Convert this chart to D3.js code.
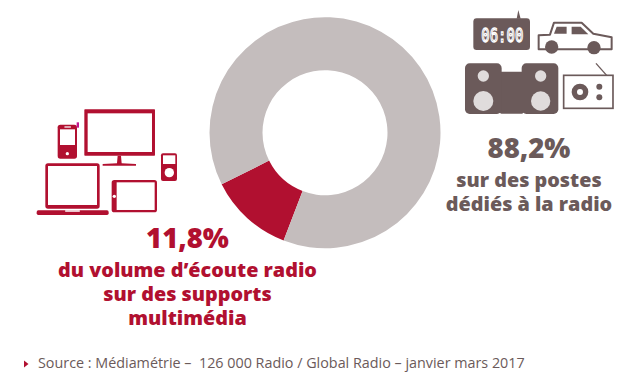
<!DOCTYPE html>
<html lang="fr">
  <head>
    <meta charset="utf-8" />
    <title>Volume d'écoute radio</title>
    <script src="https://cdnjs.cloudflare.com/ajax/libs/d3/7.8.5/d3.min.js"></script>
    <style type="text/css">
      html, body { margin: 0; padding: 0; background: #fff; }
      svg { display: block; }
      text { font-family: "Open Sans", sans-serif; }
    </style>
  </head>
  <body>
    <div id="chart"></div>
    <script>
      const categories = ["multimedia", "radio"];
      const shares = [11.8, 88.2];
      const redLines = ["du volume d’écoute radio", "sur des supports", "multimédia"];
      const greyLines = ["sur des postes", "dédiés à la radio"];
      const sourceLine = "Source : Médiamétrie –  126 000 Radio / Global Radio – janvier mars 2017";

      const width = 640;
      const height = 381;
      const red = "#b11030";
      const grey = "#c4bdbd";
      const dark = "#6b5a5a";
      const pale = "#e0dcdc";

      const svg = d3.select("#chart").append("svg").attr("width", width).attr("height", height);

      // donut
      const color = d3.scaleOrdinal().domain(categories).range([red, grey]);
      const startAngle = (201 * Math.PI) / 180;
      const pie = d3.pie().sort(null).startAngle(startAngle).endAngle(startAngle + 2 * Math.PI);
      const arc = d3.arc().innerRadius(62.5).outerRadius(115.5);

      svg.append("g")
        .attr("transform", "translate(325,132.7)")
        .selectAll("path")
        .data(pie(shares))
        .join("path")
        .attr("d", arc)
        .attr("fill", (d, i) => color(categories[i]));

      // one text element per block, the lines are tspans
      function textBlock(x, y, share, lines, fill) {
        const t = svg.append("text")
          .attr("text-anchor", "middle")
          .attr("font-weight", 800)
          .attr("fill", fill);
        t.append("tspan")
          .attr("x", x)
          .attr("y", y)
          .attr("font-size", 27.5)
          .text(String(share).replace(".", ",") + "%");
        lines.forEach((l, i) => {
          t.append("tspan")
            .attr("x", x)
            .attr("y", y + 29 + i * 24)
            .attr("font-size", 19.8)
            .text(l);
        });
      }

      textBlock(187.5, 248, shares[0], redLines, red);
      textBlock(529, 158, shares[1], greyLines, dark);

      svg.append("path").attr("d", "M24,360.5L28.5,364L24,367.5Z").attr("fill", red);
      svg.append("text")
        .attr("x", 38)
        .attr("y", 368)
        .attr("font-size", 14.35)
        .attr("fill", dark)
        .style("white-space", "pre")
        .text(sourceLine);

      // icons, drawn at 3x in the coordinates of a zoomed crop
      function rect(g, x0, y0, x1, y1, r, fill) {
        return g.append("rect").attr("x", x0).attr("y", y0)
          .attr("width", x1 - x0).attr("height", y1 - y0)
          .attr("rx", r).attr("fill", fill);
      }
      function circle(g, cx, cy, r, fill) {
        return g.append("circle").attr("cx", cx).attr("cy", cy).attr("r", r).attr("fill", fill);
      }

      // multimedia devices
      const left = svg.append("g").attr("transform", "translate(20,90) scale(0.3333)");
      // monitor
      rect(left, 193, 58, 405, 197, 2, red);
      rect(left, 203, 70, 396, 186, 0, "#fff");
      left.append("path").attr("d", "M293,197L303,197L305,220L348,222L348,227L248,227L248,222L291,220Z").attr("fill", red);
      // phone
      rect(left, 113, 104, 171, 206, 8, red);
      rect(left, 120, 118, 165, 165, 0, "#fff");
      rect(left, 133, 109, 153, 113, 1, "#f1d5da");
      circle(left, 142, 191, 5, "#fff");
      rect(left, 170, 97, 177, 113, 0, "#c2188f");
      // ipod
      rect(left, 423, 190, 471, 273, 6, red);
      rect(left, 429, 196, 466, 222, 0, "#fff");
      circle(left, 448, 248, 14, "#fff");
      // laptop
      rect(left, 76, 220, 239, 356, 8, red);
      rect(left, 84, 228, 231, 345, 0, "#fff");
      rect(left, 50, 361, 266, 375, 5, red);
      rect(left, 135, 361, 180, 365, 2, "#fff");
      // tablet
      rect(left, 275, 270, 411, 367, 8, red);
      rect(left, 290, 277, 404, 360, 0, "#fff");
      circle(left, 283, 319, 5, "#fff");

      // radio devices
      const right = svg.append("g").attr("transform", "translate(450,0) scale(0.3333)");
      // clock
      rect(right, 70, 55, 240, 150, 10, dark);
      right.append("path").attr("d", "M200,56L205,30L212,56Z").attr("fill", dark);
      right.append("text")
        .attr("x", 157)
        .attr("y", 127)
        .attr("text-anchor", "middle")
        .attr("font-size", 60)
        .attr("textLength", 126)
        .attr("lengthAdjust", "spacingAndGlyphs")
        .style("font-family", "'DejaVu Sans Mono', monospace")
        .attr("fill", "none")
        .attr("stroke", "#fff")
        .attr("stroke-width", 4)
        .text("06:00");
      // car
      right.append("path")
        .attr("d", "M266,148L266,106L300,104L312,68L395,68L430,101L485,112L485,148Z")
        .attr("fill", "none").attr("stroke", dark).attr("stroke-width", 6).attr("stroke-linejoin", "round");
      right.append("path").attr("d", "M312,101L320,80L350,80L350,101Z").attr("fill", dark);
      right.append("path").attr("d", "M365,80L392,80L415,103L365,103Z").attr("fill", dark);
      circle(right, 305, 141, 20, dark);
      circle(right, 432, 143, 20, dark);
      // stereo
      rect(right, 150, 215, 220, 341, 4, dark);
      rect(right, 45, 190, 155, 342, 14, dark);
      rect(right, 215, 190, 325, 342, 14, dark);
      circle(right, 100, 228, 17, pale);
      circle(right, 100, 303, 30, pale);
      circle(right, 272, 228, 17, pale);
      circle(right, 272, 303, 29, pale);
      // radio
      right.append("rect").attr("x", 341).attr("y", 226).attr("width", 148).attr("height", 99)
        .attr("fill", "none").attr("stroke", dark).attr("stroke-width", 5);
      right.append("path").attr("d", "M438,190L470,226").attr("stroke", dark).attr("stroke-width", 4);
      circle(right, 390, 276, 25, dark);
      circle(right, 390, 276, 9, "#fff");
      circle(right, 448, 260, 9, dark);
      circle(right, 448, 292, 9, dark);
    </script>
  </body>
</html>
